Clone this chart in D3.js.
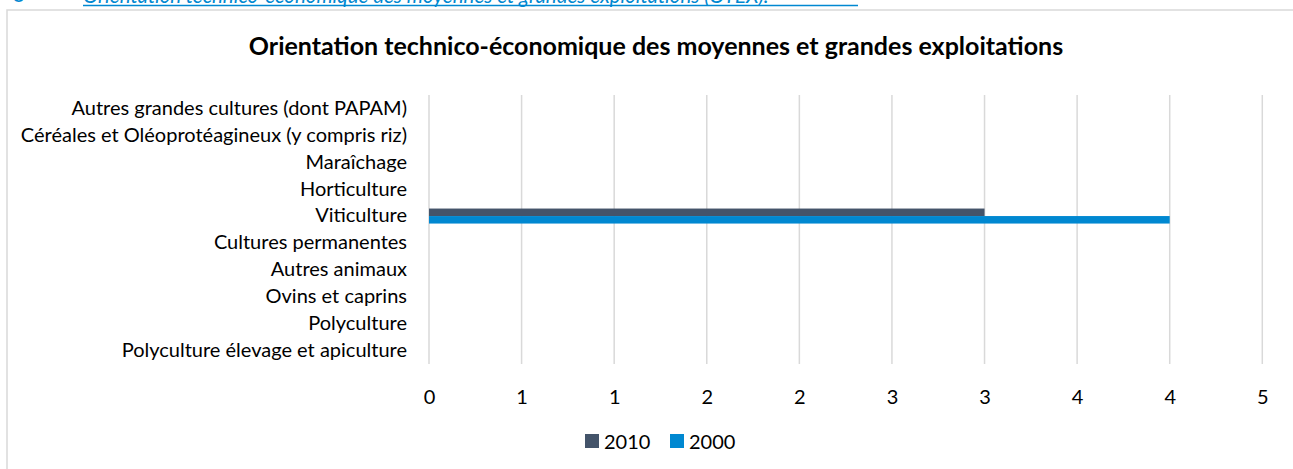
<!DOCTYPE html>
<html lang="fr">
<head>
<meta charset="utf-8">
<script src="https://cdn.jsdelivr.net/npm/d3@7"></script>
<style>
  html, body { margin: 0; padding: 0; background: #fff; }
  svg { display: block; }
  text { font-family: Lato, "Open Sans", sans-serif; fill: #000; }
</style>
</head>
<body>
<svg id="chart" width="1293" height="469"></svg>
<script>
// Orientation technico-économique (OTEX) — nombre d'exploitations moyennes et grandes
const categories = [
  "Autres grandes cultures (dont PAPAM)",
  "Céréales et Oléoprotéagineux (y compris riz)",
  "Maraîchage",
  "Horticulture",
  "Viticulture",
  "Cultures permanentes",
  "Autres animaux",
  "Ovins et caprins",
  "Polyculture",
  "Polyculture élevage et apiculture"
];
const seriesNames = ["2010", "2000"];
const values2010 = [0, 0, 0, 0, 3, 0, 0, 0, 0, 0];
const values2000 = [0, 0, 0, 0, 4, 0, 0, 0, 0, 0];
const tickValues = [0, 0.5, 1, 1.5, 2, 2.5, 3, 3.5, 4, 4.5];
const tickLabels = ["0", "1", "1", "2", "2", "3", "3", "4", "4", "5"];
const colors = { "2010": "#44546A", "2000": "#0088D1" };

const title = "Orientation technico-économique des moyennes et grandes exploitations";
const caption = "Orientation technico-économique des moyennes et grandes exploitations (OTEX).";

const svg = d3.select("#chart");

// Caption above the chart frame (link style)
svg.append("text")
  .attr("x", 12).attr("y", 3)
  .style("font-size", "20px").style("fill", "#0088D1")
  .text("○");
svg.append("text")
  .attr("x", 83).attr("y", 3)
  .style("font-size", "20.5px").style("font-style", "italic").style("fill", "#0088D1")
  .text(caption);
svg.append("line")
  .attr("x1", 83).attr("x2", 858).attr("y1", 5.5).attr("y2", 5.5)
  .attr("stroke", "#0088D1").attr("stroke-width", 1.3);

// Chart frame
svg.append("rect")
  .attr("x", 7).attr("y", 10).attr("width", 1300).attr("height", 480)
  .attr("fill", "#fff").attr("stroke", "#D9D9D9").attr("stroke-width", 1.5);

// Title
svg.append("text")
  .attr("x", 656).attr("y", 55)
  .attr("text-anchor", "middle")
  .style("font-size", "25px").style("font-weight", "bold")
  .text(title);

const plot = { left: 429, right: 1262.3, top: 95, bottom: 364 };

const x = d3.scaleLinear().domain([0, 4.5]).range([plot.left, plot.right]);
const y = d3.scaleBand().domain(categories)
  .range([plot.top, plot.bottom])
  .paddingInner(0.442).paddingOuter(0.221);
const ySeries = d3.scaleBand().domain(seriesNames).range([0, y.bandwidth()]);

// Vertical gridlines
svg.append("g").selectAll("line")
  .data(tickValues)
  .join("line")
  .attr("x1", d => x(d)).attr("x2", d => x(d))
  .attr("y1", plot.top).attr("y2", plot.bottom)
  .attr("stroke", "#D9D9D9").attr("stroke-width", 1.5);

// Bars
const rows = categories.map((c, i) => ({ cat: c, "2010": values2010[i], "2000": values2000[i] }));
const bars = [];
rows.forEach(r => seriesNames.forEach(s => bars.push({ cat: r.cat, series: s, value: r[s] })));
svg.append("g").selectAll("rect")
  .data(bars.filter(b => b.value > 0))
  .join("rect")
  .attr("x", x(0))
  .attr("y", d => y(d.cat) + ySeries(d.series))
  .attr("width", d => x(d.value) - x(0))
  .attr("height", ySeries.bandwidth())
  .attr("fill", d => colors[d.series]);

// Category axis labels
const yAxis = d3.axisLeft(y).tickSize(0).tickPadding(22);
const gy = svg.append("g").attr("transform", `translate(${plot.left},0)`).call(yAxis);
gy.select(".domain").remove();
gy.selectAll("text")
  .attr("font-family", null).attr("font-size", null)
  .style("font-size", "20px");

// Value axis labels
const xAxis = d3.axisBottom(x).tickValues(tickValues)
  .tickFormat((d, i) => tickLabels[i]).tickSize(0).tickPadding(26);
const gx = svg.append("g").attr("transform", `translate(0,${plot.bottom})`).call(xAxis);
gx.select(".domain").remove();
gx.selectAll("text")
  .attr("font-family", null).attr("font-size", null)
  .style("font-size", "20px");

// Legend
const legend = svg.append("g");
const legendX = [585, 670];
seriesNames.forEach((s, i) => {
  legend.append("rect")
    .attr("x", legendX[i]).attr("y", 434).attr("width", 14).attr("height", 14)
    .attr("fill", colors[s]);
  legend.append("text")
    .attr("x", legendX[i] + 19).attr("y", 441)
    .attr("dominant-baseline", "central")
    .style("font-size", "20px")
    .text(s);
});
</script>
</body>
</html>
